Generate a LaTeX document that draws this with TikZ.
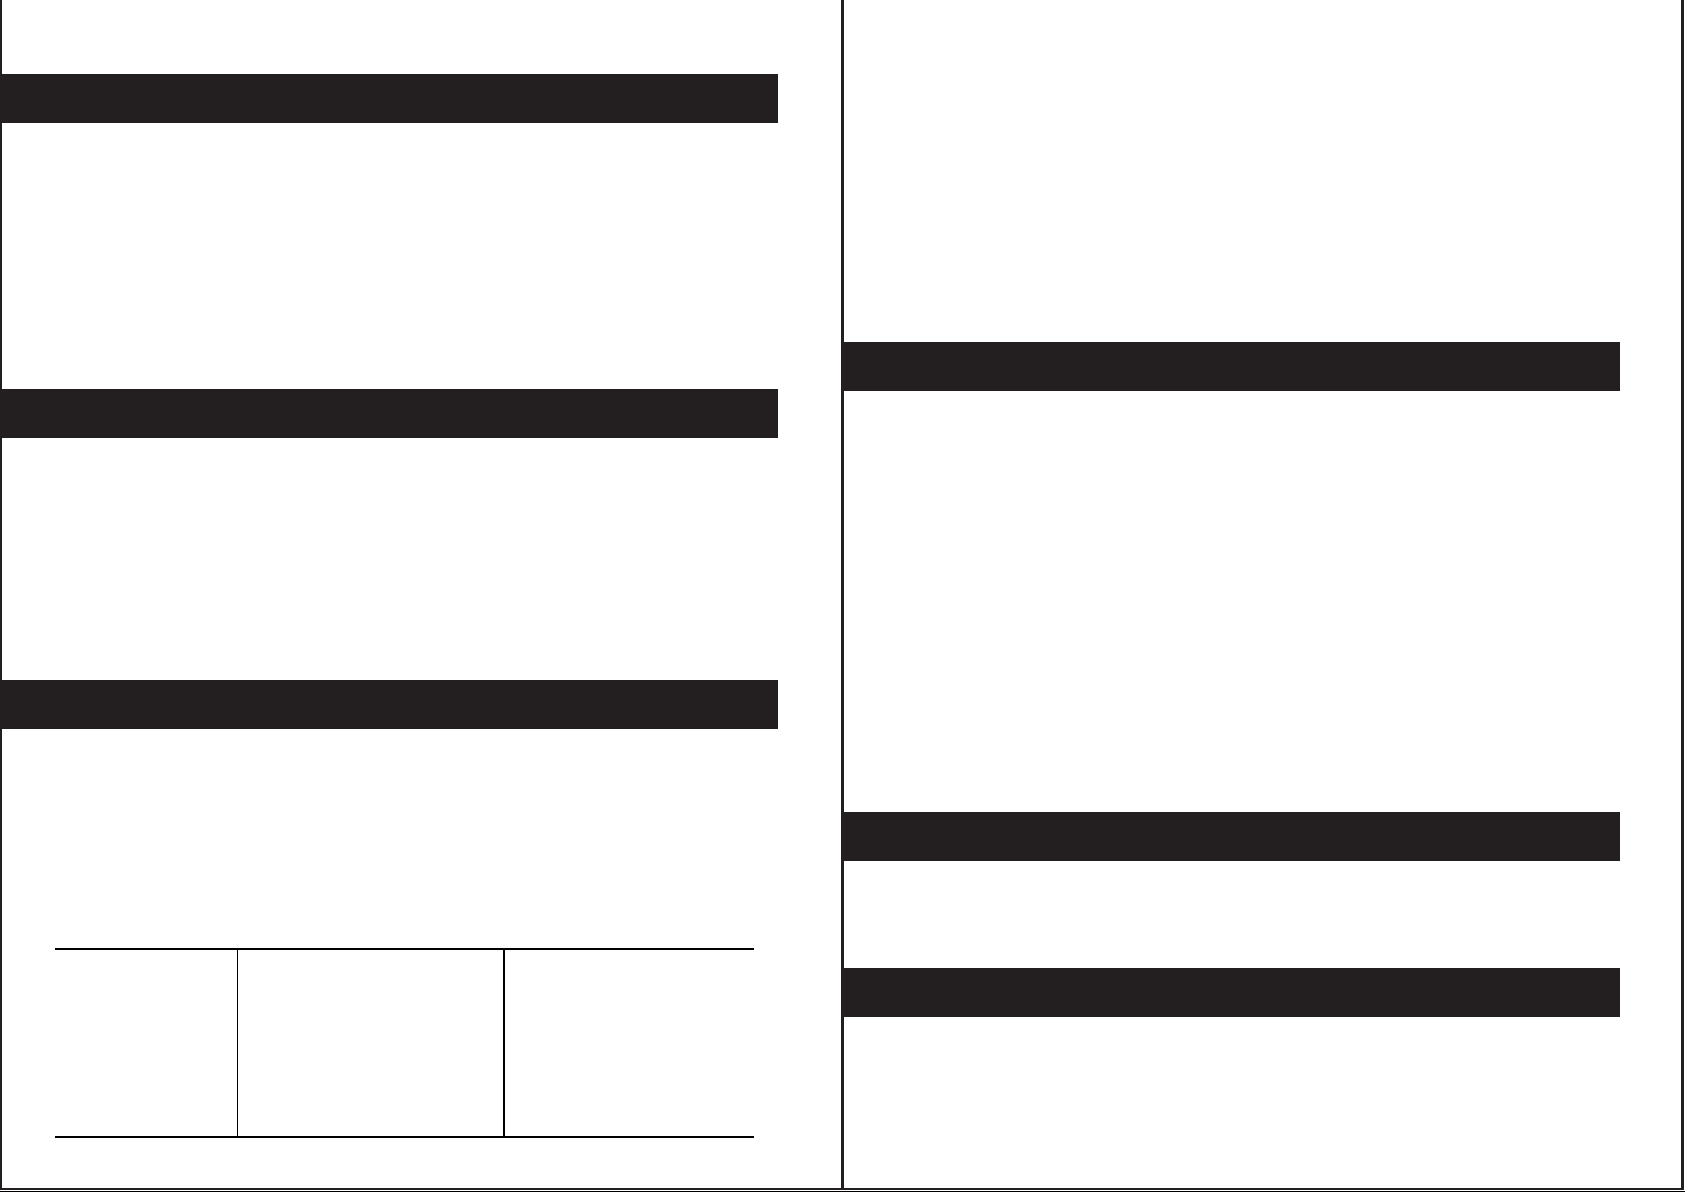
\documentclass[tikz,border=0pt]{standalone}
\definecolor{barcol}{HTML}{231F20}
\tikzset{
  bar/.style={fill=barcol, draw=none},
  frameline/.style={draw=barcol, line width=2.4pt},
  rule/.style={draw=black, line width=2.2pt},
  thinrule/.style={draw=black, line width=1.2pt},
  midrule/.style={draw=black, line width=1.9pt}
}
\begin{document}
\begin{tikzpicture}[x=1pt,y=-1pt]
\useasboundingbox (0,0) rectangle (1685,1192);
% left column bars
\fill[bar] (0,74) rectangle (778,123);
\fill[bar] (0,389) rectangle (778,438);
\fill[bar] (0,680) rectangle (778,729);
% right column bars
\fill[bar] (842,342) rectangle (1620,391);
\fill[bar] (842,812) rectangle (1620,861);
\fill[bar] (842,968) rectangle (1620,1017);
% frame
\draw[frameline] (1.2,0) -- (1.2,1189) -- (1682.5,1189) -- (1682.5,0);
\draw[thinrule] (0,1191.4) -- (1685,1191.4);
\draw[frameline] (842.5,0) -- (842.5,1189);
% table
\coordinate (tl) at (55,949.3);
\coordinate (tr) at (753.5,949.3);
\coordinate (bl) at (55,1137.3);
\coordinate (br) at (753.5,1137.3);
\draw[rule] (tl) -- (tr);
\draw[rule] (bl) -- (br);
\draw[thinrule] (237.3,949.3) -- (237.3,1137.3);
\draw[midrule] (504.3,949.3) -- (504.3,1137.3);
\end{tikzpicture}
\end{document}
